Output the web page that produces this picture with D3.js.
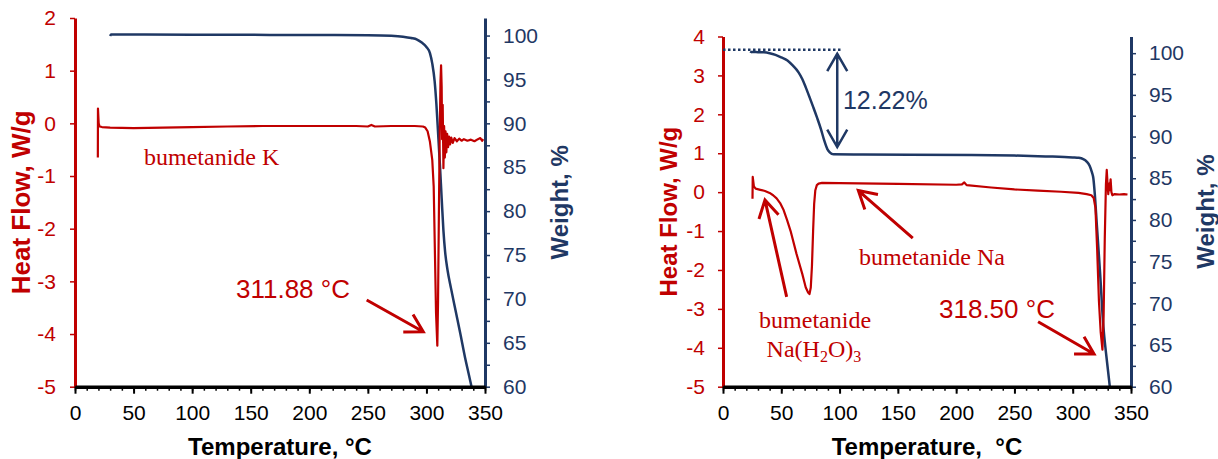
<!DOCTYPE html>
<html lang="en">
<head>
  <meta charset="UTF-8">
  <title>Bumetanide salts DSC / TGA</title>
  <script src="https://d3js.org/d3.v7.min.js"></script>
  <style>
    body { margin: 0; background: #fff; }
    svg { display: block; }
  </style>
</head>
<body>
  <div id="viz"></div>
  <script>
    // ---- data (T in °C) ----
    const tempTicks = [0, 50, 100, 150, 200, 250, 300, 350];
    const tempMinor = d3.range(0, 351, 10);
    const weightTicks = [60, 65, 70, 75, 80, 85, 90, 95, 100];
    const weightMinor = [62.5, 67.5, 72.5, 77.5, 82.5, 87.5, 92.5, 97.5];
    const hfTicksK = [-5, -4, -3, -2, -1, 0, 1, 2];
    const hfTicksNa = [-5, -4, -3, -2, -1, 0, 1, 2, 3, 4];

    // bumetanide K: heat flow (W/g)
    const heatK = [
      [19.5, -0.65], [19.6, 0.28], [20.2, 0.0], [21, -0.06], [23, -0.07], [30, -0.08],
      [50, -0.09], [75, -0.08], [100, -0.07], [130, -0.06], [160, -0.05], [200, -0.05],
      [240, -0.05], [250, -0.06], [253, -0.03], [256, -0.06], [270, -0.05], [290, -0.05],
      [297, -0.06], [299, -0.08], [301, -0.15], [303, -0.35], [305, -0.7], [306.2, -1.2],
      [307.2, -2.4], [308.2, -3.6], [309.3, -4.22], [309.9, -3.4], [310.6, -1.8],
      [311.3, -0.3], [312, 0.8], [312.5, 1.1], [313, 0.7], [313.4, -0.3], [313.9, 0.35],
      [314.5, -0.85], [315.1, -0.05], [315.7, -0.65], [316.3, -0.15], [317, -0.55],
      [317.7, -0.2], [318.5, -0.45], [319.3, -0.25], [320.2, -0.4], [321.2, -0.27],
      [322.5, -0.37], [324, -0.28], [326, -0.34], [328, -0.29], [330, -0.33], [332, -0.3],
      [335, -0.33], [338, -0.31], [341, -0.34], [344, -0.3], [346, -0.28], [347.5, -0.33],
      [348.5, -0.3]
    ];
    // bumetanide K: weight (%)
    const weightK = [
      [30, 99.95], [30.8, 100.12], [40, 100.13], [100, 100.1], [150, 100.08], [200, 100.06],
      [250, 100.03], [270, 99.97], [280, 99.87], [287, 99.72], [292, 99.55], [296, 99.2],
      [300, 98.7], [303, 98.0], [305, 96.8], [307, 94.8], [308.5, 92.2], [310, 88.8],
      [311.5, 85.3], [313, 81.5], [314.5, 77.8], [316, 75.3], [318, 73.3], [321, 71.2],
      [325, 68.6], [329, 66.0], [333, 63.3], [336, 61.5], [338.5, 60]
    ];

    // bumetanide Na: heat flow (W/g)
    const heatNa = [
      [25.3, -0.17], [25.5, 0.39], [26.5, 0.15], [28, 0.09], [32, 0.06], [36, 0.03],
      [40, -0.02], [43, -0.08], [46, -0.16], [49, -0.28], [52, -0.46], [55, -0.72],
      [58, -1.0], [63, -1.58], [68, -2.1], [71, -2.45], [73, -2.58], [74.2, -2.62],
      [75.3, -2.45], [76.3, -1.9], [77.3, -1.0], [78.2, -0.3], [79.2, 0.05], [80.5, 0.18],
      [82, 0.22], [85, 0.24], [100, 0.23], [150, 0.21], [200, 0.19], [205, 0.2], [207, 0.25],
      [209, 0.18], [230, 0.12], [250, 0.07], [270, 0.04], [290, 0.01], [305, -0.02],
      [312, -0.05], [316, -0.08], [318, -0.15], [319.5, -0.4], [321, -1.5], [322.5, -2.8],
      [324, -3.6], [325.5, -4.05], [326.5, -3.2], [327.5, -1.2], [328.5, 0.2], [329.2, 0.57],
      [329.8, 0.25], [330.5, -0.05], [331.2, 0.22], [331.8, 0.05], [332.5, 0.33],
      [333.2, 0.0], [334, -0.08], [336, -0.05], [340, -0.06], [344, -0.05], [347, -0.06]
    ];
    // bumetanide Na: weight (%)
    const weightNa = [
      [23.7, 100.02], [24.2, 100.14], [30, 100.12], [35, 100.1], [40, 100.0], [45, 99.8],
      [50, 99.5], [55.3, 99.13], [60, 98.5], [64.8, 97.7], [68, 96.9], [71, 95.9],
      [74.3, 94.7], [77.5, 93.5], [80.6, 92.3], [84, 90.9], [86.9, 89.5], [89.5, 88.5],
      [91.6, 88.1], [94.8, 87.87], [120, 87.85], [213, 87.8], [250, 87.72], [276.7, 87.62],
      [300, 87.5], [305.2, 87.45], [309, 87.3], [312, 87.0], [314.5, 86.5], [316.5, 85.7],
      [317.7, 85.0], [319, 83.0], [320.6, 79.6], [323.5, 73.6], [326.3, 67.2], [328.6, 64.0],
      [331.2, 60.8], [331.8, 60]
    ];

    const RED = "#c00000";
    const NAVY = "#1f3864";
    const SANS = "'Liberation Sans', Arial, sans-serif";
    const SERIF = "'Liberation Serif', 'Times New Roman', serif";

    const svg = d3.select("#viz").append("svg")
      .attr("width", 1218)
      .attr("height", 459);

    // open V arrow head at (x2,y2), line coming from (x1,y1)
    function arrow(g, x1, y1, x2, y2, color, width, both) {
      const len = 20, half = Math.PI / 6;
      function head(tx, ty, fx, fy) {
        const a = Math.atan2(fy - ty, fx - tx);
        return `M${tx + len * Math.cos(a - half)},${ty + len * Math.sin(a - half)}` +
          `L${tx},${ty}L${tx + len * Math.cos(a + half)},${ty + len * Math.sin(a + half)}`;
      }
      let d = `M${x1},${y1}L${x2},${y2}` + head(x2, y2, x1, y1);
      if (both) d += head(x1, y1, x2, y2);
      g.append("path")
        .attr("d", d)
        .attr("fill", "none")
        .attr("stroke", color)
        .attr("stroke-width", width)
        .attr("stroke-linejoin", "miter");
    }

    function drawPanel(p) {
      const g = svg.append("g");
      const x = d3.scaleLinear().domain([0, 350]).range([p.x0, p.x1]);
      const yHF = d3.scaleLinear().domain(p.hfDomain).range([p.bottom, p.top]);
      const yW = d3.scaleLinear().domain([60, 102]).range([p.bottom, p.top]);

      // curves
      g.append("path")
        .datum(p.weight)
        .attr("fill", "none")
        .attr("stroke", NAVY)
        .attr("stroke-width", 2.5)
        .attr("stroke-linejoin", "round")
        .attr("d", d3.line().x(d => x(d[0])).y(d => yW(d[1])).curve(d3.curveMonotoneX));

      g.append("path")
        .datum(p.heat)
        .attr("fill", "none")
        .attr("stroke", RED)
        .attr("stroke-width", 2.2)
        .attr("stroke-linejoin", "round")
        .attr("d", d3.line().x(d => x(d[0])).y(d => yHF(d[1])));

      // left axis (heat flow)
      const la = g.append("g")
        .attr("transform", `translate(${p.x0},0)`)
        .call(d3.axisLeft(yHF).tickValues(p.hfTicks).tickSize(5).tickSizeOuter(0)
          .tickPadding(p.leftPad).tickFormat(d => String(d)));
      la.select(".domain").attr("stroke", RED).attr("stroke-width", 3);
      la.selectAll(".tick line").attr("stroke", RED).attr("stroke-width", 1.5);
      la.selectAll("text").attr("fill", RED).attr("font-size", 21).attr("font-family", SANS);

      // right axis (weight)
      const rm = g.append("g")
        .attr("transform", `translate(${p.x1},0)`)
        .call(d3.axisRight(yW).tickValues(weightMinor).tickSize(5).tickFormat(""));
      rm.select(".domain").remove();
      rm.selectAll(".tick line").attr("stroke", NAVY).attr("stroke-width", 1.5);

      const ra = g.append("g")
        .attr("transform", `translate(${p.x1},0)`)
        .call(d3.axisRight(yW).tickValues(weightTicks).tickSize(5).tickSizeOuter(0).tickPadding(13));
      ra.select(".domain").attr("stroke", NAVY).attr("stroke-width", 3);
      ra.selectAll(".tick line").attr("stroke", NAVY).attr("stroke-width", 1.5);
      ra.selectAll("text").attr("fill", NAVY).attr("font-size", 21).attr("font-family", SANS);

      // bottom axis (temperature)
      const bm = g.append("g")
        .attr("transform", `translate(0,${p.bottom})`)
        .call(d3.axisBottom(x).tickValues(tempMinor).tickSize(4).tickFormat(""));
      bm.select(".domain").remove();
      bm.selectAll(".tick line").attr("stroke", "#000").attr("stroke-width", 1.5);

      const ba = g.append("g")
        .attr("transform", `translate(0,${p.bottom})`)
        .call(d3.axisBottom(x).tickValues(tempTicks).tickSize(7).tickSizeOuter(0).tickPadding(11));
      ba.select(".domain").attr("stroke", "#000").attr("stroke-width", 3.5);
      ba.selectAll(".tick line").attr("stroke", "#000").attr("stroke-width", 2);
      ba.selectAll("text").attr("fill", "#000").attr("font-size", 21).attr("font-family", SANS);

      // axis titles
      g.append("text")
        .attr("x", (p.x0 + p.x1) / 2)
        .attr("y", 455)
        .attr("text-anchor", "middle")
        .attr("font-family", SANS)
        .attr("font-weight", "bold")
        .attr("font-size", 24)
        .style("white-space", "pre")
        .text(p.xTitle);

      g.append("text")
        .attr("transform", `translate(${p.hfTitleX},${(p.top + p.bottom) / 2}) rotate(-90)`)
        .attr("text-anchor", "middle")
        .attr("fill", RED)
        .attr("font-family", SANS)
        .attr("font-weight", "bold")
        .attr("font-size", p.hfTitleSize)
        .text("Heat Flow, W/g");

      g.append("text")
        .attr("transform", `translate(${p.wTitleX},${(p.top + p.bottom) / 2}) rotate(-90)`)
        .attr("text-anchor", "middle")
        .attr("fill", NAVY)
        .attr("font-family", SANS)
        .attr("font-weight", "bold")
        .attr("font-size", 24)
        .text("Weight, %");

      return { g, x, yHF, yW };
    }

    // ---- left panel: bumetanide K ----
    const L = drawPanel({
      x0: 75, x1: 485, top: 18, bottom: 386.7,
      hfDomain: [-5, 2], hfTicks: hfTicksK, leftPad: 14,
      heat: heatK, weight: weightK,
      xTitle: "Temperature, °C",
      hfTitleX: 30, hfTitleSize: 26, wTitleX: 568
    });

    L.g.append("text")
      .attr("x", L.x(58.9)).attr("y", L.yHF(-0.8))
      .attr("fill", RED).attr("font-family", SERIF).attr("font-size", 24)
      .text("bumetanide K");

    L.g.append("text")
      .attr("x", L.x(137.4)).attr("y", L.yHF(-3.32))
      .attr("fill", RED).attr("font-family", SANS).attr("font-size", 26)
      .text("311.88 °C");
    arrow(L.g, L.x(249), L.yHF(-3.354), L.x(297.3), L.yHF(-3.956), RED, 3);

    // ---- right panel: bumetanide Na ----
    const R = drawPanel({
      x0: 723, x1: 1131, top: 36.5, bottom: 386.7,
      hfDomain: [-5, 4], hfTicks: hfTicksNa, leftPad: 13,
      heat: heatNa, weight: weightNa,
      xTitle: "Temperature,  °C",
      hfTitleX: 677, hfTitleSize: 24, wTitleX: 1214
    });

    // initial weight reference line and 12.22 % step
    R.g.append("line")
      .attr("x1", R.x(0)).attr("x2", R.x(102))
      .attr("y1", R.yW(100.4)).attr("y2", R.yW(100.4))
      .attr("stroke", NAVY).attr("stroke-width", 2.5)
      .attr("stroke-dasharray", "2.5,2.5");
    arrow(R.g, R.x(98), R.yW(99.93), R.x(98), R.yW(88.74), NAVY, 2.5, true);
    R.g.append("text")
      .attr("x", R.x(102.9)).attr("y", R.yW(93.34))
      .attr("fill", NAVY).attr("font-family", SANS).attr("font-size", 25)
      .text("12.22%");

    R.g.append("text")
      .attr("x", R.x(116.7)).attr("y", R.yHF(-1.87))
      .attr("fill", RED).attr("font-family", SERIF).attr("font-size", 24)
      .text("bumetanide Na");
    arrow(R.g, R.x(162.8), R.yHF(-1.18), R.x(116.1), R.yHF(0.04), RED, 3);

    R.g.append("text")
      .attr("x", R.x(79)).attr("y", R.yHF(-3.48))
      .attr("text-anchor", "middle")
      .attr("fill", RED).attr("font-family", SERIF).attr("font-size", 24)
      .text("bumetanide");
    const hyd = R.g.append("text")
      .attr("x", R.x(78)).attr("y", R.yHF(-4.23))
      .attr("text-anchor", "middle")
      .attr("fill", RED).attr("font-family", SERIF).attr("font-size", 24);
    hyd.append("tspan").text("Na(H");
    hyd.append("tspan").attr("dy", 5).attr("font-size", 16).text("2");
    hyd.append("tspan").attr("dy", -5).text("O)");
    hyd.append("tspan").attr("dy", 5).attr("font-size", 16).text("3");
    arrow(R.g, R.x(54.6), R.yHF(-2.69), R.x(36), R.yHF(-0.2), RED, 3);

    R.g.append("text")
      .attr("x", R.x(185.3)).attr("y", R.yHF(-3.24))
      .attr("fill", RED).attr("font-family", SANS).attr("font-size", 26)
      .text("318.50 °C");
    arrow(R.g, R.x(270.3), R.yHF(-3.33), R.x(318.3), R.yHF(-4.16), RED, 3);
  </script>
</body>
</html>
